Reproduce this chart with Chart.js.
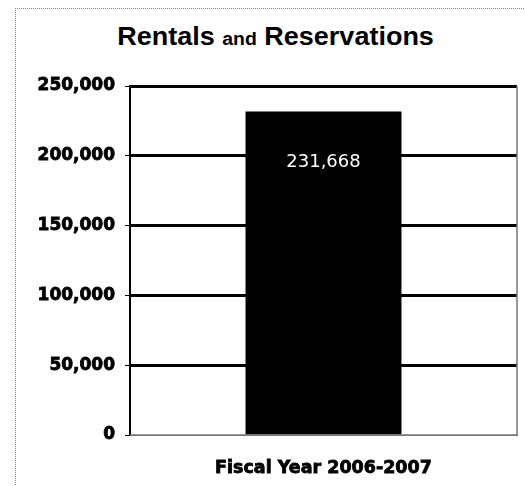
<!DOCTYPE html>
<html>
<head>
<meta charset="utf-8">
<script src="https://cdn.jsdelivr.net/npm/chart.js@4"></script>
<style>
  body { margin: 0; background: #fff; }
  #wrap { position: relative; width: 525px; height: 486px; }
  #frame {
    position: absolute; left: 15px; top: 8px; width: 520px; height: 490px;
    border-left: 1px dotted #888; border-top: 1px dotted #888;
  }
  #title {
    position: absolute; left: 0; top: 22px; width: 551px; text-align: center;
    font-family: "Liberation Sans", Arial, sans-serif; font-weight: bold;
    font-size: 25px; color: #000; transform: scaleX(1.08); transform-origin: 275px 0;
  }
  #title span { font-size: 18px; }
  canvas { position: absolute; left: 0; top: 0; }
</style>
</head>
<body>
<div id="wrap">
  <div id="frame"></div>
  <div id="title">Rentals <span>and</span> Reservations</div>
  <canvas id="rentals" width="525" height="486"></canvas>
</div>
<script>
const categories = ["Fiscal Year 2006-2007"];
const rentals = [231668];
const yTicks = [0, 50000, 100000, 150000, 200000, 250000];

const fmt = v => v.toLocaleString("en-US");
const heavy = "'DejaVu Sans', Verdana, sans-serif";

// white value label inside the top of the bar
const valueLabel = {
  id: "valueLabel",
  afterDatasetsDraw(chart) {
    const ctx = chart.ctx;
    chart.getDatasetMeta(0).data.forEach((bar, i) => {
      ctx.save();
      ctx.fillStyle = "#fff";
      ctx.font = "18px " + heavy;
      ctx.textAlign = "center";
      ctx.textBaseline = "middle";
      ctx.fillText(fmt(rentals[i]), bar.x, bar.y + 51);
      ctx.restore();
    });
  }
};

// thin grey frame on the right and bottom of the plot
const plotFrame = {
  id: "plotFrame",
  afterDraw(chart) {
    const { ctx, chartArea: a } = chart;
    ctx.save();
    ctx.strokeStyle = "#777";
    ctx.lineWidth = 1.5;
    ctx.beginPath();
    ctx.moveTo(a.right, a.top);
    ctx.lineTo(a.right, a.bottom);
    ctx.lineTo(a.left, a.bottom);
    ctx.stroke();
    ctx.restore();
  }
};

new Chart(document.getElementById("rentals"), {
  type: "bar",
  data: {
    labels: categories,
    datasets: [{
      data: rentals,
      backgroundColor: "#000",
      borderWidth: 0,
      categoryPercentage: 1,
      barPercentage: 0.403
    }]
  },
  options: {
    responsive: false,
    animation: false,
    layout: { padding: { top: 86, right: 8, left: 0, bottom: 0 } },
    plugins: { legend: { display: false }, tooltip: { enabled: false } },
    scales: {
      x: {
        afterFit(s) { s.height = 51; },
        grid: { display: false },
        border: { color: "#777", width: 1 },
        ticks: {
          color: "#000",
          padding: 15,
          textStrokeColor: "#000",
          textStrokeWidth: 0.8,
          font: { family: heavy, weight: "bold", size: 17.5 }
        }
      },
      y: {
        min: 0,
        max: 250000,
        afterFit(s) { s.width = 130; },
        afterBuildTicks(s) { s.ticks = yTicks.map(v => ({ value: v })); },
        border: { color: "#000", width: 2 },
        grid: {
          color: c => c.tick && c.tick.value === 0 ? "#777" : "#000",
          lineWidth: c => c.tick && c.tick.value === 0 ? 1 : 3,
          tickColor: "#000",
          tickWidth: 1,
          tickLength: 5
        },
        ticks: {
          color: "#000",
          padding: 10,
          textStrokeColor: "#000",
          textStrokeWidth: 0.8,
          callback: v => fmt(v),
          font: { family: heavy, weight: "bold", size: 17 }
        }
      }
    }
  },
  plugins: [valueLabel, plotFrame]
});
</script>
</body>
</html>
